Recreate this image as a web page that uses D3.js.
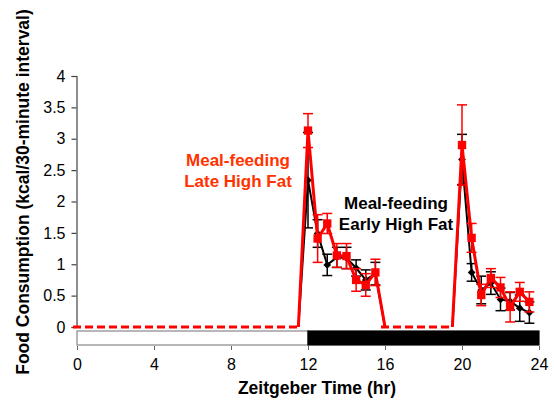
<!DOCTYPE html>
<html>
<head>
<meta charset="utf-8">
<script src="https://cdn.jsdelivr.net/npm/d3@7"></script>
<style>
  html, body { margin: 0; padding: 0; background: #fff; }
  svg { display: block; font-family: "Liberation Sans", Arial, sans-serif; }
</style>
</head>
<body>
<svg id="chart" width="554" height="402"></svg>
<script>
// Zeitgeber time of each 30-minute bin (hr)
const times = [12, 12.5, 13, 13.5, 14, 14.5, 15, 15.5,
               20, 20.5, 21, 21.5, 22, 22.5, 23, 23.5];

// Meal-feeding, late high fat (mean ± SEM, kcal / 30 min)
const lateMean = [3.13, 1.41, 1.65, 1.14, 1.13, 0.75, 0.67, 0.87,
                  2.90, 1.42, 0.51, 0.78, 0.63, 0.32, 0.56, 0.40];
const lateSem  = [0.27, 0.38, 0.16, 0.19, 0.20, 0.18, 0.18, 0.21,
                  0.64, 0.23, 0.17, 0.15, 0.16, 0.24, 0.15, 0.16];

// Meal-feeding, early high fat (mean ± SEM, kcal / 30 min)
const earlyMean = [2.34, 1.49, 0.99, 1.11, 1.10, 0.94, 0.75, 0.85,
                   2.67, 0.87, 0.59, 0.70, 0.44, 0.41, 0.30, 0.23];
const earlySem  = [0.76, 0.22, 0.17, 0.16, 0.17, 0.13, 0.16, 0.18,
                   0.40, 0.14, 0.22, 0.18, 0.18, 0.14, 0.21, 0.17];

// Feeding windows: food available from start to end (hr); zero intake outside
const windowStart = [11.5, 19.5];
const windowEnd   = [16, null];

// Fasting stretches drawn as a dashed zero line
const fastFrom = [0, 16];
const fastTo   = [11.5, 19.5];

// Light / dark phases
const phaseFrom = [0, 12];
const phaseTo   = [12, 24];
const phaseName = ["light", "dark"];

const xTicks = [0, 4, 8, 12, 16, 20, 24];
const yTicks = [0, 0.5, 1, 1.5, 2, 2.5, 3, 3.5, 4];

const svg = d3.select("#chart");

const x = d3.scaleLinear().domain([0, 24]).range([77, 539]);
const y = d3.scaleLinear().domain([0, 4]).range([327, 76]);

const RED = "#ff0000";
const BLACK = "#000000";

// Y axis
const yAxis = svg.append("g")
  .attr("transform", `translate(${x(0) - 0.5},0)`)
  .call(d3.axisLeft(y).tickValues(yTicks).tickSize(5).tickPadding(6)
        .tickFormat(d3.format("")));
yAxis.select(".domain").attr("stroke", "#444").attr("stroke-width", 1.2);
yAxis.selectAll(".tick line").attr("stroke", "#444").attr("stroke-width", 1.2);
yAxis.selectAll(".tick text").attr("font-size", 16).attr("fill", "#000")
  .attr("font-family", "Liberation Sans, Arial, sans-serif");

// Light/dark bar along the bottom
const barTop = 331, barH = 14;
svg.append("g").selectAll("rect")
  .data(phaseName)
  .join("rect")
  .attr("x", (d, i) => x(phaseFrom[i]))
  .attr("y", barTop)
  .attr("width", (d, i) => x(phaseTo[i]) - x(phaseFrom[i]))
  .attr("height", barH)
  .attr("fill", d => d === "dark" ? "#000" : "#fff")
  .attr("stroke", d => d === "dark" ? "#000" : "#888")
  .attr("stroke-width", 1.2);

// X axis (ticks below the light/dark bar)
const xAxis = svg.append("g")
  .attr("transform", `translate(0,${barTop + barH + 1})`)
  .call(d3.axisBottom(x).tickValues(xTicks).tickSize(4).tickPadding(9)
        .tickFormat(d3.format("")));
xAxis.select(".domain").remove();
xAxis.selectAll(".tick line").attr("stroke", "#666");
xAxis.selectAll(".tick text").attr("font-size", 16).attr("fill", "#000")
  .attr("font-family", "Liberation Sans, Arial, sans-serif");

// Axis titles
svg.append("text")
  .attr("x", 317).attr("y", 394)
  .attr("text-anchor", "middle")
  .attr("font-size", 17.5).attr("font-weight", "bold")
  .text("Zeitgeber Time (hr)");

svg.append("text")
  .attr("transform", "translate(29,192) rotate(-90)")
  .attr("text-anchor", "middle")
  .attr("font-size", 17.5).attr("font-weight", "bold")
  .text("Food Consumption (kcal/30-minute interval)");

// Dashed zero line during fasting
svg.append("g").selectAll("line")
  .data(fastFrom)
  .join("line")
  .attr("x1", (d, i) => x(fastFrom[i]) - 4)
  .attr("x2", (d, i) => x(fastTo[i]))
  .attr("y1", y(0)).attr("y2", y(0))
  .attr("stroke", RED).attr("stroke-width", 3)
  .attr("stroke-dasharray", "8,4");

// Build the points of each feeding window, including the zero-intake edges
function windowPoints(means) {
  return windowStart.map((s, w) => {
    const e = windowEnd[w];
    const pts = [{t: s, v: 0}];
    times.forEach((t, i) => {
      if (t > s && (e === null || t < e) && (w === windowStart.length - 1 || t < windowStart[w + 1]))
        pts.push({t, v: means[i]});
    });
    if (e !== null) pts.push({t: e, v: 0});
    return pts;
  });
}

const line = d3.line().x(d => x(d.t)).y(d => y(d.v));

function drawSeries(means, sems, color, lineW, marker) {
  const g = svg.append("g");
  // Error bars
  const eb = g.append("g").attr("stroke", color).attr("stroke-width", 1.5);
  times.forEach((t, i) => {
    const cx = x(t), top = y(means[i] + sems[i]), bot = y(means[i] - sems[i]);
    eb.append("line").attr("x1", cx).attr("x2", cx).attr("y1", top).attr("y2", bot);
    eb.append("line").attr("x1", cx - 5).attr("x2", cx + 5).attr("y1", top).attr("y2", top);
    eb.append("line").attr("x1", cx - 5).attr("x2", cx + 5).attr("y1", bot).attr("y2", bot);
  });
  // Lines
  g.append("g").selectAll("path")
    .data(windowPoints(means))
    .join("path")
    .attr("d", line)
    .attr("fill", "none")
    .attr("stroke", color)
    .attr("stroke-width", lineW)
    .attr("stroke-linejoin", "miter");
  // Markers
  g.append("g").selectAll("path")
    .data(times)
    .join("path")
    .attr("transform", (t, i) => `translate(${x(t)},${y(means[i])})${marker === "diamond" ? " rotate(45)" : ""}`)
    .attr("d", d3.symbol().type(d3.symbolSquare).size(marker === "diamond" ? 30 : 70))
    .attr("fill", color);
}

drawSeries(earlyMean, earlySem, BLACK, 2, "diamond");
drawSeries(lateMean, lateSem, RED, 3, "square");

// Group labels
const labels = svg.append("g").attr("font-size", 17).attr("font-weight", "bold")
  .attr("text-anchor", "middle");
labels.append("text").attr("x", 238).attr("y", 166).attr("fill", "#ff3300").text("Meal-feeding");
labels.append("text").attr("x", 238).attr("y", 187).attr("fill", "#ff3300").text("Late High Fat");
labels.append("text").attr("x", 396).attr("y", 209).attr("fill", "#000").text("Meal-feeding");
labels.append("text").attr("x", 396).attr("y", 230).attr("fill", "#000").text("Early High Fat");
</script>
</body>
</html>
